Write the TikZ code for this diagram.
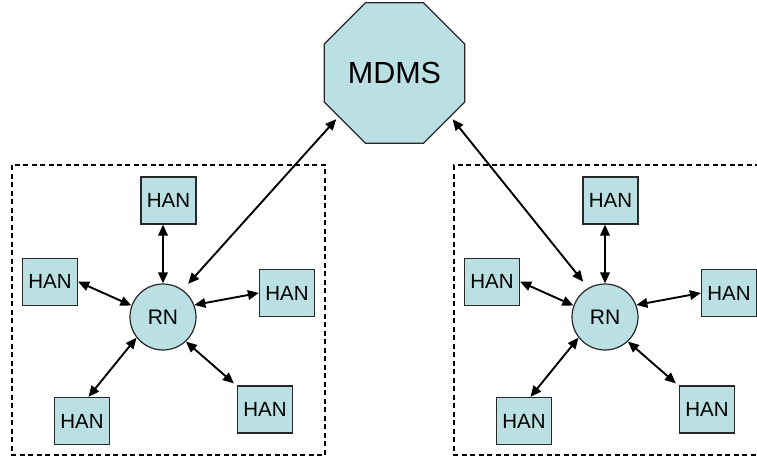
\documentclass[tikz,border=0pt]{standalone}
\usepackage{fontspec}
\setmainfont{Liberation Sans}
\usetikzlibrary{shapes.geometric,arrows.meta}
\definecolor{nodefill}{RGB}{187,224,227}
\definecolor{nodeline}{RGB}{40,40,40}
\tikzset{
  hanbox/.style={draw=nodeline,line width=1.2pt,fill=nodefill,minimum width=55pt,minimum height=47pt,inner sep=0pt,font=\fontsize{20.5}{24}\selectfont},
  rnnode/.style={circle,draw=nodeline,line width=1.2pt,fill=nodefill,minimum size=66pt,inner sep=0pt,font=\fontsize{21}{25}\selectfont},
  mdmsnode/.style={regular polygon,regular polygon sides=8,draw=nodeline,line width=1.2pt,fill=nodefill,minimum size=152pt,inner sep=0pt,font=\fontsize{30.5}{36}\selectfont},
  link/.style={{Triangle[length=11pt,width=9.5pt]}-{Triangle[length=11pt,width=9.5pt]},line width=1.9pt,black},
  groupbox/.style={dash pattern=on 5pt off 3.5pt,line width=2pt,black}
}
\begin{document}
\begin{tikzpicture}[x=1pt,y=-1pt]
\useasboundingbox (0,0) rectangle (757,458);
% dashed groups
\draw[groupbox] (12,165) rectangle (325,455);
\draw[groupbox] (760,165) -- (454,165) -- (454,455) -- (760,455);
% MDMS
\node[mdmsnode] (mdms) at (394.5,73) {MDMS};
% clusters
\foreach \k/\dx in {a/0,b/442}{
  \begin{scope}[xshift=\dx pt]
    \node[rnnode] (rn\k) at (163,317) {RN};
    \node[hanbox] (top\k) at (168.5,200.5) {HAN};
    \node[hanbox] (lft\k) at (50,281.7) {HAN};
    \node[hanbox] (rgt\k) at (287,293) {HAN};
    \node[hanbox] (bl\k) at (82,421) {HAN};
    \node[hanbox] (br\k) at (265,409.5) {HAN};
    \draw[link] (top\k.south -| rn\k) -- (rn\k.north);
    \draw[link] (lft\k.east) -- (rn\k.160);
    \draw[link] (rgt\k.west) -- (rn\k.21);
    \draw[link] (bl\k.75) -- (rn\k.-142);
    \draw[link] ([xshift=-3pt,yshift=2pt]br\k.north west) -- (rn\k.-47);
  \end{scope}
}
\draw[link,shorten <=8pt,shorten >=3pt] (rna.54) -- (mdms.-142);
\draw[link,shorten <=8pt,shorten >=3pt] (rnb.120) -- (mdms.-38);
\end{tikzpicture}
\end{document}
